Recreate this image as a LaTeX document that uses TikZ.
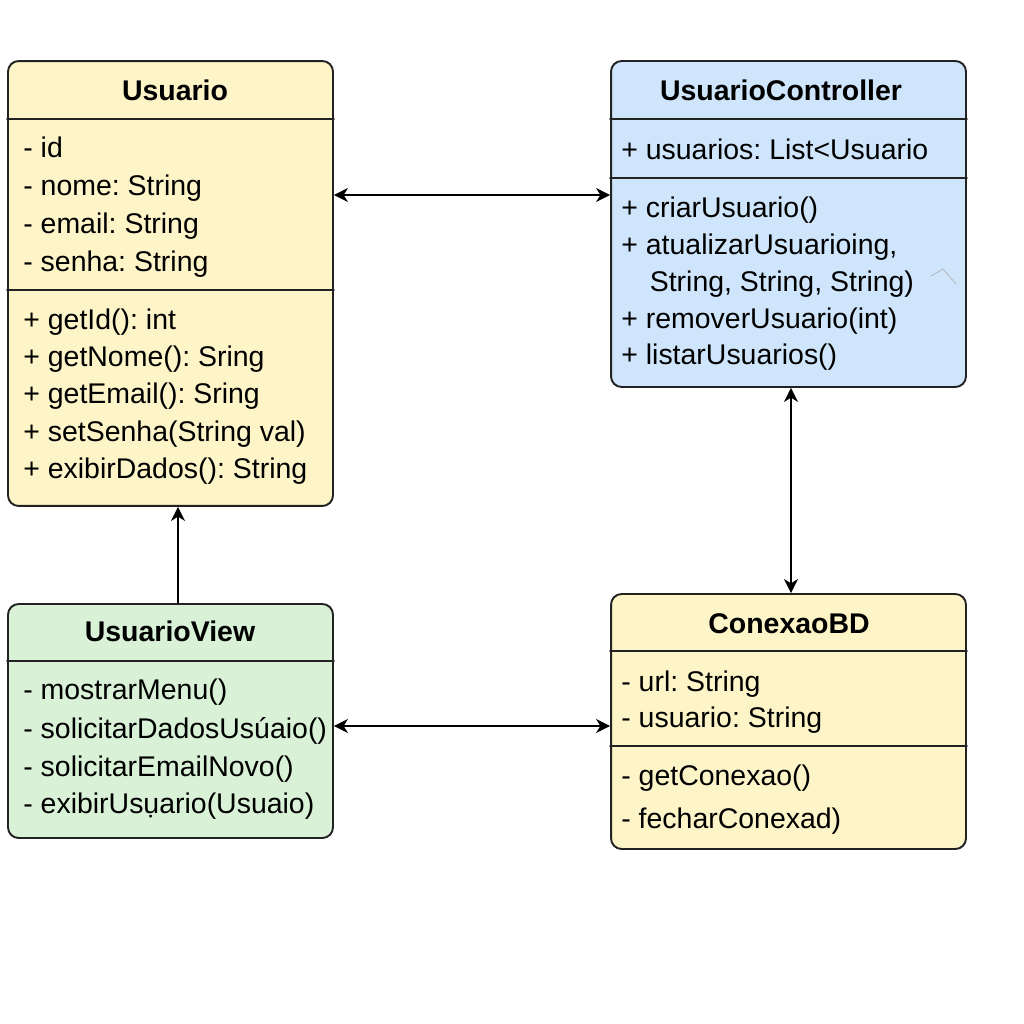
\documentclass[tikz,border=0pt]{standalone}
\usepackage{fontspec}
\setmainfont{Liberation Sans}
\frenchspacing
\usetikzlibrary{arrows.meta}
\definecolor{amarelo}{RGB}{253,244,199}
\definecolor{azul}{RGB}{207,229,251}
\definecolor{verde}{RGB}{216,241,215}
\definecolor{borda}{RGB}{34,34,34}
\tikzset{
  classe/.style={draw=borda, line width=1.1pt, rounded corners=6pt, inner sep=0pt},
  titulo/.style={font=\bfseries\fontsize{16.2}{19}\selectfont, anchor=mid, inner sep=0pt, yshift=-0.1cm},
  membro/.style={font=\fontsize{16.2}{19}\selectfont, anchor=mid west, inner sep=0pt, yshift=-0.1cm},
  divisor/.style={draw=borda, line width=1pt},
  seta/.style={line width=0.9pt, {Stealth[length=8pt,width=8pt,inset=2.5pt]}-{Stealth[length=8pt,width=8pt,inset=2.5pt]}},
}
\begin{document}
\begin{tikzpicture}[x=0.02cm, y=-0.02cm, line join=round, line cap=round]
		\useasboundingbox (0,0) rectangle (1024,1024);
		%Caixas das classes
		\node[classe, fill=amarelo, minimum width=6.5cm, minimum height=8.9cm] (U) at (170.5,283.5) {};
		\node[classe, fill=azul, minimum width=7.1cm, minimum height=6.52cm] (C) at (788.5,224) {};
		\node[classe, fill=verde, minimum width=6.5cm, minimum height=4.68cm] (V) at (170.5,721) {};
		\node[classe, fill=amarelo, minimum width=7.1cm, minimum height=5.1cm] (B) at (788.5,721.5) {};
		\draw[divisor] (U.west|-0,119)--(U.east|-0,119) (U.west|-0,290)--(U.east|-0,290)
		(C.west|-0,119)--(C.east|-0,119) (C.west|-0,178)--(C.east|-0,178)
		(V.west|-0,661)--(V.east|-0,661)
		(B.west|-0,651)--(B.east|-0,651) (B.west|-0,746)--(B.east|-0,746);
		%Titulos
		\node[titulo] (Ut) at (175,91) {Usuario};
		\node[titulo] (Ct) at (781,91) {UsuarioController};
		\node[titulo] (Vt) at (170,632) {UsuarioView};
		\node[titulo] (Bt) at (789,624) {ConexaoBD};
		%Membros
		\foreach \y/\t [count=\i] in {148/- id,186/- nome: String,224/- email: String,262/- senha: String,
		320/+ getId(): int,357/+ getNome(): Sring,394/+ getEmail(): Sring,432/+ setSenha(String val),469/+ exibirDados(): String}
		\node[membro] (u\i) at (23,\y) {\t};
		\foreach \y/\t [count=\i] in {150/+ usuarios: List<Usuario,208/+ criarUsuario(),245/{+ atualizarUsuarioing,},
		282/{\hspace{1em}String, String, String)},319/+ removerUsuario(int),355/+ listarUsuarios()}
		\node[membro] (c\i) at (621,\y) {\t};
		\foreach \y/\t [count=\i] in {690/- mostrarMenu(),729/- solicitarDadosUsúaio(),767/- solicitarEmailNovo(),804/- exibirUsụario(Usuaio)}
		\node[membro] (v\i) at (23,\y) {\t};
		\foreach \y/\t [count=\i] in {682/- url: String,718/- usuario: String,776/- getConexao(),819/- fecharConexad)}
		\node[membro] (b\i) at (621,\y) {\t};
		%Associacoes
		\draw[seta] (U.east|-0,195)--(C.west|-0,195);
		\draw[seta] (C.south-|791,0)--(B.north-|791,0);
		\draw[seta] (V.east|-0,726)--(B.west|-0,726);
		\draw[seta, {Stealth[length=8pt,width=8pt,inset=2.5pt]}-] (U.south-|178,0)--(V.north-|178,0);
		\draw[gray!60, line width=0.4pt] (931,276)--(943,269)--(956,284);
\end{tikzpicture}
\end{document}
